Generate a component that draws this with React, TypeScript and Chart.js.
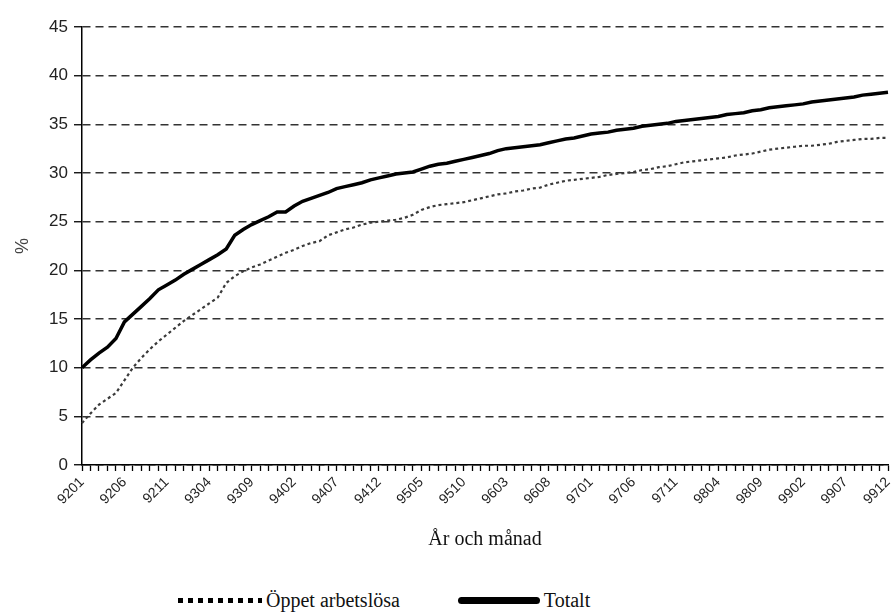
import React, { useEffect, useRef } from "react";
import { Chart, registerables } from "chart.js";

Chart.register(...registerables);

const years = ["92", "93", "94", "95", "96", "97", "98", "99"];
const months = ["01", "02", "03", "04", "05", "06", "07", "08", "09", "10", "11", "12"];
const categories: string[] = years.flatMap((y) => months.map((m) => y + m));

const oppetArbetslosa = [
  4.3, 5.3, 6.2, 6.8, 7.4, 8.7, 10.0, 11.0, 11.9, 12.7, 13.4, 14.1,
  14.8, 15.4, 16.0, 16.6, 17.2, 18.7, 19.4, 19.9, 20.3, 20.6, 21.0, 21.4,
  21.8, 22.1, 22.5, 22.8, 23.0, 23.6, 23.9, 24.2, 24.4, 24.7, 24.9, 25.0,
  25.1, 25.2, 25.4, 25.7, 26.2, 26.5, 26.7, 26.8, 26.9, 27.0, 27.2, 27.4,
  27.6, 27.8, 27.9, 28.1, 28.2, 28.4, 28.5, 28.8, 29.0, 29.2, 29.3, 29.4,
  29.5, 29.6, 29.8, 29.9, 30.0, 30.1, 30.3, 30.4, 30.6, 30.7, 30.9, 31.1,
  31.2, 31.3, 31.4, 31.5, 31.6, 31.8, 31.9, 32.0, 32.2, 32.4, 32.5, 32.6,
  32.7, 32.8, 32.8, 32.9, 33.0, 33.2, 33.3, 33.4, 33.5, 33.5, 33.6, 33.6,
];

const totalt = [
  10.0, 10.8, 11.5, 12.1, 13.0, 14.7, 15.5, 16.3, 17.1, 18.0, 18.5, 19.0,
  19.6, 20.1, 20.6, 21.1, 21.6, 22.2, 23.6, 24.2, 24.7, 25.1, 25.5, 26.0,
  26.0, 26.6, 27.1, 27.4, 27.7, 28.0, 28.4, 28.6, 28.8, 29.0, 29.3, 29.5,
  29.7, 29.9, 30.0, 30.1, 30.4, 30.7, 30.9, 31.0, 31.2, 31.4, 31.6, 31.8,
  32.0, 32.3, 32.5, 32.6, 32.7, 32.8, 32.9, 33.1, 33.3, 33.5, 33.6, 33.8,
  34.0, 34.1, 34.2, 34.4, 34.5, 34.6, 34.8, 34.9, 35.0, 35.1, 35.3, 35.4,
  35.5, 35.6, 35.7, 35.8, 36.0, 36.1, 36.2, 36.4, 36.5, 36.7, 36.8, 36.9,
  37.0, 37.1, 37.3, 37.4, 37.5, 37.6, 37.7, 37.8, 38.0, 38.1, 38.2, 38.3,
];

const seriesNames = ["Öppet arbetslösa", "Totalt"];
const xTitle = "År och månad";
const yTitle = "%";

export default function App() {
  const canvasRef = useRef<HTMLCanvasElement | null>(null);

  useEffect(() => {
    if (!canvasRef.current) return;
    const chart = new Chart(canvasRef.current, {
      type: "line",
      data: {
        labels: categories,
        datasets: [
          {
            label: seriesNames[0],
            data: oppetArbetslosa,
            borderColor: "#3a3a3a",
            borderWidth: 2.2,
            borderDash: [3, 3],
            pointRadius: 0,
            tension: 0,
            fill: false,
          },
          {
            label: seriesNames[1],
            data: totalt,
            borderColor: "#000",
            borderWidth: 3.5,
            pointRadius: 0,
            tension: 0,
            fill: false,
          },
        ],
      },
      options: {
        animation: false,
        responsive: true,
        maintainAspectRatio: false,
        layout: { padding: { top: 27, right: 0, left: 0, bottom: 0 } },
        plugins: { legend: { display: false }, tooltip: { enabled: false } },
        scales: {
          x: {
            offset: false,
            afterFit: (s: any) => {
              s.height = 100;
              s.paddingRight = 7;
            },
            grid: {
              display: true,
              drawOnChartArea: false,
              drawTicks: true,
              tickLength: 6,
              tickColor: "#000",
              tickWidth: 1.3,
            },
            border: { display: true, color: "#000", width: 1.5 },
            ticks: {
              autoSkip: false,
              minRotation: 45,
              maxRotation: 45,
              padding: 3,
              color: "#222",
              font: { family: "'Liberation Sans', Arial, sans-serif", size: 14 },
              callback: (_v: any, i: number) => (i % 5 === 0 ? categories[i] : ""),
            },
            title: {
              display: true,
              text: xTitle,
              color: "#111",
              font: { family: "'Liberation Serif', 'Times New Roman', serif", size: 20 },
              padding: { top: 0, bottom: 13 },
            },
          },
          y: {
            min: 0,
            max: 45,
            afterFit: (s: any) => {
              s.width = 82;
            },
            grid: {
              color: "#333",
              lineWidth: 1.5,
              tickLength: 8,
              tickColor: "#000",
              tickWidth: 1.3,
              tickBorderDash: [],
            },
            border: { display: true, color: "#000", width: 1.5, dash: [8, 5] },
            ticks: {
              stepSize: 5,
              padding: 6,
              color: "#222",
              font: { family: "'Liberation Sans', Arial, sans-serif", size: 17 },
            },
            title: {
              display: true,
              text: yTitle,
              color: "#444",
              font: { family: "'Liberation Sans', Arial, sans-serif", size: 18 },
              padding: { top: 12, bottom: 0 },
            },
          },
        },
      },
    });
    return () => chart.destroy();
  }, []);

  const textStyle: React.CSSProperties = {
    fontFamily: "'Liberation Serif', 'Times New Roman', serif",
    fontSize: 20,
    color: "#111",
    lineHeight: "20px",
    marginLeft: 4,
  };

  return (
    <div style={{ position: "fixed", left: 0, top: 0, width: 895, height: 616, background: "#fff" }}>
      <div style={{ position: "absolute", left: 0, top: 0, width: 895, height: 565 }}>
        <canvas ref={canvasRef} />
      </div>
      <div
        style={{
          position: "absolute",
          left: 178,
          top: 590,
          display: "flex",
          alignItems: "center",
          gap: 58,
        }}
      >
        <div style={{ display: "flex", alignItems: "center" }}>
          <div
            style={{
              width: 84,
              height: 5,
              background: "repeating-linear-gradient(90deg, #000 0 5px, transparent 5px 10px)",
            }}
          />
          <span style={textStyle}>{seriesNames[0]}</span>
        </div>
        <div style={{ display: "flex", alignItems: "center" }}>
          <div style={{ width: 82, height: 7, background: "#000", borderRadius: 4 }} />
          <span style={textStyle}>{seriesNames[1]}</span>
        </div>
      </div>
    </div>
  );
}
